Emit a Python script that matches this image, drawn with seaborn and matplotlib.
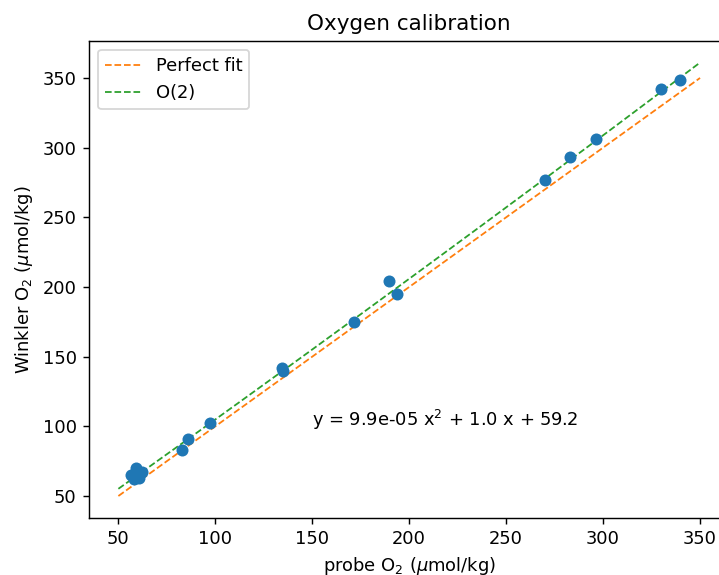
import numpy as np
import matplotlib
matplotlib.use("Agg")
import matplotlib.pyplot as plt
import seaborn as sns

# Probe vs Winkler oxygen readings (umol/kg)
probe_o2 = [56.4, 59.0, 59.5, 62.4, 60.7, 58.1, 83.0, 86.1, 97.2,
            134.6, 135.0, 171.6, 189.7, 193.8, 270.0, 283.0, 296.4, 330.0, 339.8]
winkler_o2 = [65.2, 70.4, 66.9, 66.9, 62.6, 62.2, 82.9, 90.8, 102.4,
              141.5, 139.5, 174.8, 204.6, 195.3, 276.8, 293.3, 306.0, 341.9, 348.3]

# 1:1 reference line and second-order calibration curve
fit_range = [50, 350]
poly_coeffs = [9.9e-05, 0.98, 5.92]
equation_text = "y = 9.9e-05 x$^2$ + 1.0 x + 59.2"

dpi = 129
fig = plt.figure(figsize=(719 / dpi, 575 / dpi), dpi=dpi)
ax = fig.add_axes([0.1242, 0.0997, 0.8899, 0.8292])

sns.scatterplot(x=probe_o2, y=winkler_o2, ax=ax, color="C0", s=45,
                linewidth=0, zorder=3)

x_line = np.linspace(fit_range[0], fit_range[1], 200)
sns.lineplot(x=fit_range, y=fit_range, ax=ax, color="C1", linestyle="--",
             linewidth=1.0, label="Perfect fit")
sns.lineplot(x=x_line, y=np.polyval(poly_coeffs, x_line), ax=ax, color="C2",
             linestyle="--", linewidth=1.0, label="O(2)")

ax.text(150, 100, equation_text)
ax.set_title("Oxygen calibration")
ax.set_xlabel(r"probe O$_2$ ($\mu$mol/kg)")
ax.set_ylabel(r"Winkler O$_2$ ($\mu$mol/kg)")
ax.set_xticks([50, 100, 150, 200, 250, 300, 350])
ax.set_yticks([50, 100, 150, 200, 250, 300, 350])
ax.legend(loc="upper left")

fig.savefig("out.png", dpi=dpi)
